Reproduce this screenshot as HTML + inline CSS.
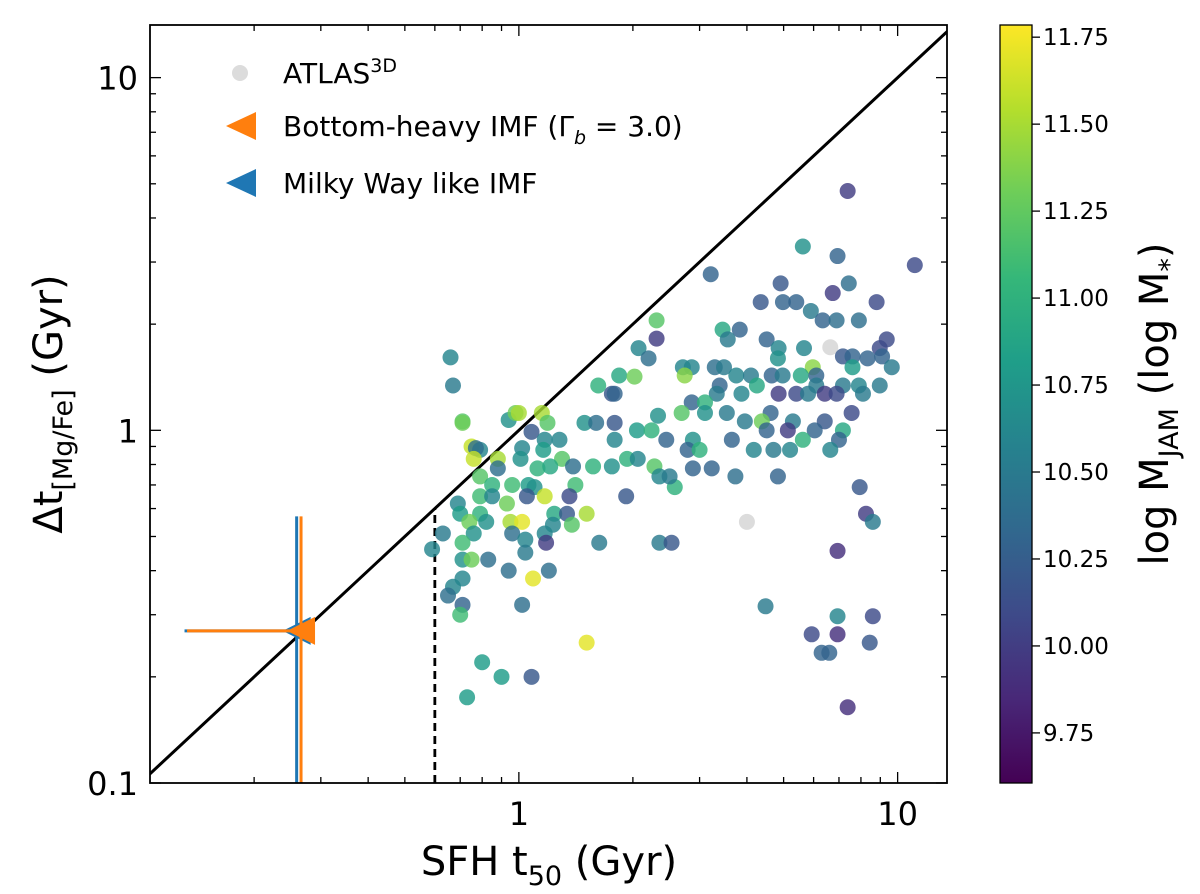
<!DOCTYPE html>
<html><head><meta charset="utf-8"><style>
html,body{margin:0;padding:0;background:#fff;}
svg{display:block;font-family:"DejaVu Sans","Liberation Sans",sans-serif;}
</style></head><body>
<svg id="chart" width="1200" height="894" viewBox="0 0 1200 894" xmlns="http://www.w3.org/2000/svg"></svg>
<script>
const tVals=[0.66,0.71,0.75,0.79,0.94,0.98,1.0,0.59,2.31,2.31,2.07,2.2,0.67,1.62,1.84,2.02,1.76,1.79,0.71,1.15,1.19,1.08,1.17,1.28,1.49,1.6,1.79,1.79,2.05,2.24,2.33,2.45,0.77,0.76,0.88,0.88,1.02,1.01,1.16,1.3,1.39,1.12,1.21,1.57,1.76,1.93,2.06,2.28,2.35,2.58,2.5,0.79,0.85,0.96,1.06,1.1,1.05,1.17,1.41,1.36,1.92,0.69,0.79,0.85,0.93,0.7,0.79,0.63,0.74,0.82,0.95,1.02,0.76,0.96,1.24,1.34,1.51,1.23,1.38,1.17,0.71,1.04,1.04,1.18,1.63,2.35,2.53,0.71,0.75,0.83,0.94,1.2,1.09,0.71,0.67,0.65,0.71,0.7,1.02,1.51,0.8,0.9,1.08,0.73,
7.38,5.62,6.94,11.1,3.21,4.91,7.43,6.74,4.35,4.98,5.4,8.8,5.9,6.34,6.9,7.9,3.45,3.83,3.56,4.51,4.85,5.66,9.36,8.97,7.17,7.6,8.33,9.1,9.65,4.83,5.97,7.6,2.71,2.86,3.29,3.48,2.74,3.75,4.1,4.65,4.97,5.55,6.1,4.25,6.1,7.17,7.9,8.97,3.39,3.33,3.87,4.85,5.4,5.8,6.42,6.9,8.1,2.86,3.1,2.69,3.1,3.54,4.62,7.56,3.95,4.38,5.29,6.42,4.51,5.13,6.04,7.17,2.88,3.65,5.62,7.0,2.79,3.0,4.17,4.7,5.2,6.64,2.88,3.23,3.73,4.83,7.94,8.25,8.6,6.94,4.48,6.94,8.6,5.93,6.94,8.44,6.3,6.6,7.38];
const dtVals=[1.61,1.06,0.9,0.88,1.07,1.12,1.12,0.46,2.05,1.82,1.71,1.6,1.34,1.34,1.43,1.42,1.27,1.27,1.05,1.12,1.05,0.99,0.94,0.94,1.05,1.05,1.05,0.94,1.0,1.0,1.1,0.94,0.89,0.83,0.83,0.78,0.89,0.83,0.88,0.83,0.79,0.78,0.79,0.79,0.79,0.83,0.83,0.79,0.74,0.69,0.74,0.74,0.7,0.7,0.7,0.69,0.65,0.65,0.7,0.65,0.65,0.62,0.65,0.65,0.62,0.58,0.58,0.51,0.55,0.55,0.55,0.55,0.51,0.51,0.58,0.58,0.58,0.54,0.54,0.51,0.48,0.49,0.45,0.48,0.48,0.48,0.48,0.43,0.43,0.43,0.4,0.4,0.38,0.38,0.36,0.34,0.32,0.3,0.32,0.25,0.22,0.2,0.2,0.175,
4.77,3.32,3.12,2.94,2.77,2.61,2.61,2.45,2.31,2.31,2.31,2.31,2.18,2.05,2.05,2.05,1.93,1.93,1.81,1.81,1.71,1.71,1.81,1.71,1.62,1.62,1.6,1.62,1.51,1.6,1.51,1.51,1.51,1.51,1.51,1.51,1.43,1.43,1.43,1.43,1.43,1.43,1.43,1.34,1.34,1.34,1.34,1.34,1.34,1.27,1.27,1.27,1.27,1.27,1.27,1.27,1.27,1.2,1.2,1.12,1.12,1.12,1.12,1.12,1.06,1.06,1.06,1.06,1.0,1.0,1.0,1.0,0.94,0.94,0.94,0.94,0.88,0.88,0.88,0.88,0.88,0.88,0.78,0.78,0.74,0.74,0.69,0.58,0.55,0.455,0.317,0.297,0.297,0.264,0.264,0.25,0.234,0.234,0.164];
const mVals=[10.6,11.2,11.6,10.6,10.7,11.3,11.5,10.6,11.2,10.0,10.6,10.4,10.5,11.0,10.9,11.3,10.2,10.3,11.3,11.5,11.2,10.2,10.6,10.6,10.7,10.4,10.2,10.6,10.8,11.0,10.7,10.3,10.4,11.6,11.5,10.4,10.6,10.7,10.8,11.2,10.4,11.0,10.9,11.0,10.7,11.0,10.6,11.2,10.6,11.0,10.5,11.2,11.0,11.1,10.8,10.7,10.2,11.6,11.1,10.1,10.2,10.6,11.1,10.6,11.3,10.8,11.0,10.5,11.3,10.7,11.5,11.7,10.7,10.4,10.9,10.2,11.5,10.6,11.2,10.6,11.1,10.6,10.5,10.0,10.5,10.5,10.2,10.7,11.3,10.4,10.4,10.4,11.7,10.6,10.6,10.4,10.3,11.1,10.4,11.7,10.8,10.8,10.2,10.8,
10.0,10.7,10.3,10.1,10.3,10.2,10.4,10.0,10.2,10.3,10.3,10.1,10.5,10.3,10.4,10.4,10.9,10.3,10.5,10.3,10.6,10.6,10.1,10.1,10.2,10.3,10.3,10.3,10.5,10.7,11.4,10.8,10.6,10.6,10.4,10.5,11.4,10.6,10.5,10.3,10.5,10.9,10.3,10.9,10.5,10.5,10.6,10.5,10.3,10.5,10.6,10.0,10.1,10.5,10.0,10.1,10.5,10.3,11.0,11.2,10.7,10.5,10.3,10.1,10.5,11.3,10.5,10.2,10.3,10.0,10.3,10.9,10.7,10.3,11.0,10.3,10.3,11.0,10.6,10.5,10.6,10.6,10.3,10.3,10.4,10.3,10.2,10.0,10.5,9.9,10.5,10.6,10.1,10.1,9.9,10.2,10.3,10.3,9.9];
const atlasT=[4.0,6.64];
const atlasDt=[0.55,1.72];
const xTickVals=[1,10];
const xTickLabels=["1","10"];
const yTickVals=[0.1,1,10];
const yTickLabels=["0.1","1","10"];
const cbTickVals=[9.75,10.0,10.25,10.5,10.75,11.0,11.25,11.5,11.75];
const cbTickLabels=["9.75","10.00","10.25","10.50","10.75","11.00","11.25","11.50","11.75"];
const imfT=[0.266,0.259];
const imfDt=[0.27,0.27];
const imfXlo=[0.133,0.131];
const imfYhi=[0.57,0.57];

const L=150,R=947,T=25,B=783;
const xmin=Math.log10(0.1062),xmax=Math.log10(13.5);
const ymin=Math.log10(0.1),ymax=Math.log10(14.1);
const X=v=>L+(Math.log10(v)-xmin)/(xmax-xmin)*(R-L);
const Y=v=>B-(Math.log10(v)-ymin)/(ymax-ymin)*(B-T);
const cmin=9.606,cmax=11.785,CT=25,CB=783;
const CY=v=>CB-(v-cmin)/(cmax-cmin)*(CB-CT);
const vir=[[68,1,84],[72,40,120],[62,74,137],[49,104,142],[38,130,142],[31,158,137],[53,183,121],[109,205,89],[180,222,44],[253,231,37]];
function viridis(v){let f=Math.max(0,Math.min(1,(v-cmin)/(cmax-cmin)))*(vir.length-1);let i=Math.min(Math.floor(f),vir.length-2),r=f-i;const c=vir[i].map((a,k)=>Math.round(a+(vir[i+1][k]-a)*r));return `rgb(${c[0]},${c[1]},${c[2]})`;}
const NS="http://www.w3.org/2000/svg";
const svg=document.getElementById('chart');
function el(tag,attrs,parent,text){const e=document.createElementNS(NS,tag);for(const k in attrs)e.setAttribute(k,attrs[k]);if(text!==undefined)e.textContent=text;(parent||svg).appendChild(e);return e;}
const defs=el('defs',{});
const cp=el('clipPath',{id:'plotclip'},defs);el('rect',{x:L,y:T,width:R-L,height:B-T},cp);
const g=el('g',{'clip-path':'url(#plotclip)'});


const diag=el('line',{x1:X(0.09),y1:Y(0.09),x2:X(20),y2:Y(20),stroke:'#000','stroke-width':3},g);


const dl=el('line',{x1:X(0.6),y1:Y(0.1),x2:X(0.6),y2:Y(0.6),stroke:'#000','stroke-width':2.8,'stroke-dasharray':'8,5'},g);


for(let i=0;i<atlasT.length;i++){const c=el('circle',{cx:X(atlasT[i]),cy:Y(atlasDt[i]),r:8,fill:'#dcdcdc'},g);

}
for(let i=0;i<tVals.length;i++){const c=el('circle',{cx:X(tVals[i]),cy:Y(dtVals[i]),r:8,fill:viridis(mVals[i]),'fill-opacity':0.82},g);

}
const imfCols=['#ff7f0e','#1f77b4'];
const imfNames=['bottom-heavy-imf-marker','milky-way-imf-marker'];
for(let k=1;k>=0;k--){
const e=el('g',{},g);


const x=X(imfT[k]),y=Y(imfDt[k]);
el('line',{x1:X(imfXlo[k]),y1:y,x2:x,y2:y,stroke:imfCols[k],'stroke-width':3},e);
el('line',{x1:x,y1:Y(imfYhi[k]),x2:x,y2:B+20,stroke:imfCols[k],'stroke-width':3},e);
el('polygon',{points:`${x-14},${y} ${x+14},${y-14} ${x+14},${y+14}`,fill:imfCols[k]},e);
}
const fr=el('rect',{x:L,y:T,width:R-L,height:B-T,fill:'none',stroke:'#000','stroke-width':1.8});


const tg=el('g',{stroke:'#000','stroke-width':1.3});


for(let d=0.1;d<=10;d*=10){for(let m=1;m<=9;m++){const v=+(d*m).toPrecision(3);const maj=m===1;const len=maj?11:6;
const xp=X(v);if(xp>L&&xp<R){el('line',{x1:xp,y1:B,x2:xp,y2:B-len},tg);el('line',{x1:xp,y1:T,x2:xp,y2:T+len},tg);}
const yp=Y(v);if(yp>=T&&yp<=B){el('line',{x1:L,y1:yp,x2:L+len,y2:yp},tg);el('line',{x1:R,y1:yp,x2:R-len,y2:yp},tg);}}}
for(let i=0;i<xTickVals.length;i++){const t=el('text',{x:X(xTickVals[i]),y:B+42,'font-size':32,'text-anchor':'middle'},svg,xTickLabels[i]);

}
for(let i=0;i<yTickVals.length;i++){const t=el('text',{x:L-12,y:Y(yTickVals[i])+12,'font-size':32,'text-anchor':'end'},svg,yTickLabels[i]);

}
const xt=el('text',{x:549,y:875,'font-size':40,'text-anchor':'middle'});


xt.innerHTML='SFH t<tspan font-size="27" dy="10">50</tspan><tspan dy="-10"> (Gyr)</tspan>';
const yt=el('text',{transform:'translate(62,404) rotate(-90)','font-size':40,'text-anchor':'middle'});


yt.innerHTML='Δt<tspan font-size="27" dy="10">[Mg/Fe]</tspan><tspan dy="-10"> (Gyr)</tspan>';
const lg=el('g',{'font-size':28});


el('circle',{cx:240,cy:73,r:8,fill:'#dcdcdc'},lg);
const l1=el('text',{x:283,y:83},lg);l1.innerHTML='ATLAS<tspan font-size="19" dy="-11">3D</tspan>';
el('polygon',{points:'226,126 256,112 256,140',fill:'#ff7f0e'},lg);
const l2=el('text',{x:283,y:136},lg);l2.innerHTML='Bottom-heavy IMF (Γ<tspan font-size="19" dy="8" font-style="italic">b</tspan><tspan dy="-8"> = 3.0)</tspan>';
el('polygon',{points:'226,183 256,169 256,197',fill:'#1f77b4'},lg);
el('text',{x:283,y:193},lg,'Milky Way like IMF');
const lgDef=el('linearGradient',{id:'vgrad',x1:0,y1:1,x2:0,y2:0},defs);
vir.forEach((c,i)=>el('stop',{offset:i/(vir.length-1),'stop-color':`rgb(${c})`},lgDef));
const cb=el('rect',{x:1000,y:CT,width:32,height:CB-CT,fill:'url(#vgrad)',stroke:'#000','stroke-width':1.3});


for(let i=0;i<cbTickVals.length;i++){const y=CY(cbTickVals[i]);el('line',{x1:1032,y1:y,x2:1040,y2:y,stroke:'#000','stroke-width':1.3});
const t=el('text',{x:1043,y:y+8,'font-size':23},svg,cbTickLabels[i]);

}
const ct=el('text',{transform:'translate(1168,404) rotate(-90)','font-size':40,'text-anchor':'middle'});


ct.innerHTML='log M<tspan font-size="27" dy="10">JAM</tspan><tspan dy="-10"> (log M</tspan><tspan font-size="27" dy="10">*</tspan><tspan dy="-10">)</tspan>';
</script>
</body></html>
